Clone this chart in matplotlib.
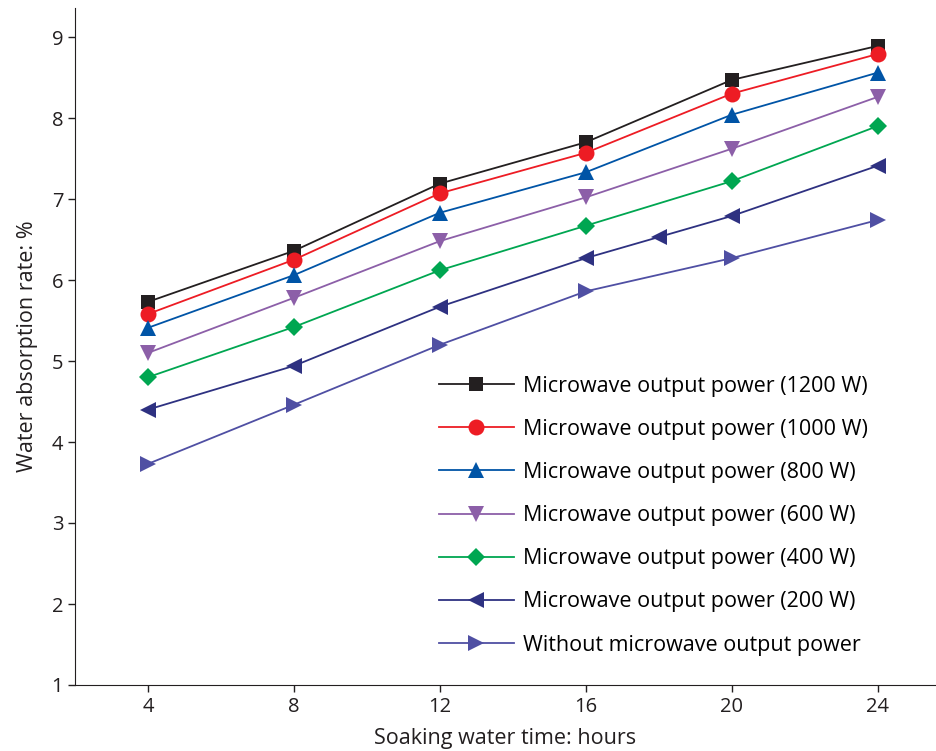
import matplotlib
matplotlib.use("Agg")
import matplotlib.pyplot as plt

plt.rcParams['font.family'] = ['Open Sans', 'DejaVu Sans']

hours = [4, 8, 12, 16, 20, 24]
hours_200 = [4, 8, 12, 16, 18, 20, 24]

p1200 = [5.73, 6.36, 7.19, 7.70, 8.47, 8.89]
p1000 = [5.58, 6.25, 7.07, 7.57, 8.30, 8.79]
p800 = [5.41, 6.06, 6.83, 7.33, 8.04, 8.56]
p600 = [5.10, 5.78, 6.48, 7.02, 7.62, 8.26]
p400 = [4.80, 5.42, 6.12, 6.67, 7.22, 7.90]
p200 = [4.40, 4.94, 5.67, 6.27, 6.53, 6.79, 7.41]
p0 = [3.73, 4.46, 5.20, 5.86, 6.27, 6.74]

labels = ["Microwave output power (1200 W)",
          "Microwave output power (1000 W)",
          "Microwave output power (800 W)",
          "Microwave output power (600 W)",
          "Microwave output power (400 W)",
          "Microwave output power (200 W)",
          "Without microwave output power"]

xticks = [4, 8, 12, 16, 20, 24]
yticks = [1, 2, 3, 4, 5, 6, 7, 8, 9]

fig = plt.figure(figsize=(9.36, 7.51), dpi=100)
ax = fig.add_axes([75/936, 66/751, (936-75)/936, (685-8)/751])

series = [
    (hours, p1200, 's', '#231f20', 10.5),
    (hours, p1000, 'o', '#ed1c24', 11.5),
    (hours, p800, '^', '#0054a6', 12),
    (hours, p600, 'v', '#8c5fa8', 12),
    (hours, p400, 'D', '#00a651', 9.5),
    (hours_200, p200, '<', '#2e3181', 12),
    (hours, p0, '>', '#4f4fa3', 12),
]
for (x, y, m, c, ms), lab in zip(series, labels):
    ax.plot(x, y, color=c, marker=m, markersize=ms, linewidth=1.3,
            markeredgewidth=0, label=lab)

ax.set_xlim(2, 25.6)
ax.set_ylim(1, 1 + 677/81)
ax.set_xticks(xticks)
ax.set_yticks(yticks)
ax.spines['top'].set_visible(False)
ax.spines['right'].set_visible(False)
ax.spines['left'].set_color('#231f20')
ax.spines['bottom'].set_color('#231f20')
ax.tick_params(direction='out', length=5, width=1, labelsize=14.5, colors='#231f20')
ax.set_xlabel("Soaking water time: hours", fontsize=15.5, labelpad=8, color='#231f20')
ax.set_ylabel("Water absorption rate: %", fontsize=15.5, labelpad=10, color='#231f20')

leg = ax.legend(loc='upper left', bbox_to_anchor=((430-75)/861, (685-367)/677),
                frameon=False, fontsize=15.5, handlelength=3.5, handletextpad=0.4,
                labelspacing=1.03, numpoints=1, borderaxespad=0)

fig.savefig("out.png", dpi=100)
